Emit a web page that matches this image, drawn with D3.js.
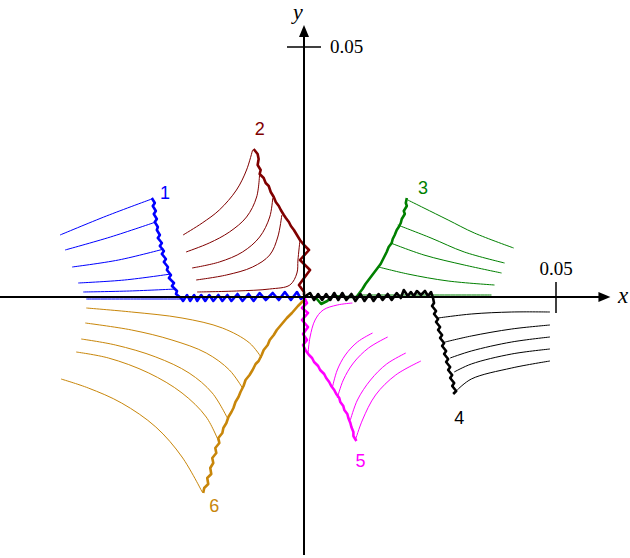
<!DOCTYPE html>
<html>
<head>
<meta charset="utf-8">
<script src="https://cdn.jsdelivr.net/npm/d3@7"></script>
<style>
  body { margin: 0; background: #fff; }
  svg { display: block; }
  .num { font-family: "Liberation Serif", "DejaVu Serif", serif; font-size: 19px; }
  .lab { font-family: "Liberation Sans", Arial, sans-serif; font-size: 18px; }
</style>
</head>
<body>
<svg class="fig"></svg>
<script>
// all coordinates in units of 1e-3
var W = 630, H = 558;

var colors = ["#0000ff", "#800000", "#008000", "#000000", "#ff00ff", "#c8860a"];
var groupNames = ["1", "2", "3", "4", "5", "6"];
var labelPos = [[-27.6, 20.8], [-8.8, 33.6], [23.6, 21.8], [30.8, -24.2], [11.2, -32.8], [-17.8, -41.8]];

var xTicks = [50], yTicks = [50];

// thick zig-zag paths
var zig1 = [[-30.2,19.8],[-29.6,18.8],[-30.0,18.2],[-29.4,17.2],[-29.8,16.6],[-29.2,15.6],[-29.6,15.0],[-29.0,14.0],
  [-29.2,13.4],[-28.6,12.4],[-29.0,11.8],[-28.2,10.8],[-28.6,10.2],[-27.8,9.2],[-28.2,8.6],[-27.4,7.6],[-27.8,7.0],
  [-27.0,6.0],[-27.2,5.4],[-26.4,4.4],[-26.8,3.8],[-25.8,2.8],[-26.2,2.2],[-25.2,1.2],[-25.4,0.6],[-24.4,-0.2],
  [-24.0,-0.8],[-23.2,0.4],[-22.6,-0.8],[-21.8,0.4],[-21.2,-0.8],[-20.4,0.4],[-19.6,-0.8],[-18.8,0.4],[-18.0,-0.8],
  [-17.0,0.4],[-16.2,-0.8],[-15.2,0.4],[-14.4,-0.8],[-13.2,0.6],[-12.2,-0.8],[-11.0,0.6],[-10.0,-0.8],[-8.8,0.8],
  [-7.6,-0.6],[-6.2,0.8],[-5.0,-0.6],[-3.8,1.0],[-2.6,-0.6],[-1.4,1.0],[-0.6,-0.4],[0,0]];
var zig2 = [[-10.0,29.6],[-9.2,28.6],[-9.0,27.6],[-9.2,26.4],[-8.6,25.4],[-8.8,24.6],[-8.0,23.8],[-7.6,22.8],[-7.0,22.2],
  [-6.6,21.0],[-6.0,20.0],[-5.6,19.0],[-5.0,18.2],[-4.6,17.4],[-4.0,16.4],[-3.6,15.8],[-3.0,15.0],[-2.6,14.2],
  [-2.0,13.4],[-1.4,12.4],[-0.8,11.4],[0,10.4],[1.0,9.4],[-0.8,7.4],[1.2,5.4],[-1.0,2.4],[0,1.0],[0,0.4]];
var zig3 = [[20.4,19.8],[20.2,18.8],[20.4,18.2],[19.8,17.2],[20.0,16.6],[19.4,15.6],[19.2,14.8],[18.8,14.0],[18.4,13.4],
  [18.0,12.4],[17.6,11.6],[17.4,10.8],[16.8,10.0],[16.4,9.0],[16.0,8.2],[15.6,7.4],[15.2,6.6],[14.6,5.8],[14.0,5.0],
  [13.4,4.2],[12.8,3.4],[12.2,2.6],[11.6,1.6],[11.0,0.8],[10.4,0.0],[8.2,0.0],[5.8,0.2],[4.6,-0.8],[3.4,-1.4],[2.4,-0.2]];
var zig4 = [[0,0],[1.2,0.8],[2.0,-0.6],[2.8,0.6],[3.6,-0.6],[4.4,0.6],[5.2,-0.6],[6.0,0.8],[6.8,-0.6],[7.6,0.8],[8.4,-0.6],
  [9.4,0.6],[10.2,-0.8],[11.2,0.6],[12.0,-0.8],[13.0,0.6],[13.8,-0.8],[14.8,0.6],[15.6,-0.6],[16.6,0.6],[17.4,-0.6],
  [18.4,0.8],[19.2,-0.2],[19.8,1.4],[20.6,0.2],[21.2,1.0],[21.8,0.2],[22.4,1.2],[23.2,0.4],[24.0,1.2],[24.6,0.2],[25.2,1.0],
  [25.6,-0.2],[25.8,-1.2],[25.4,-1.8],[26.2,-2.8],[25.8,-3.4],[26.6,-4.4],[26.2,-5.0],[27.0,-6.0],[26.6,-6.6],[27.4,-7.6],
  [27.0,-8.2],[27.8,-9.2],[27.4,-9.8],[28.2,-10.8],[27.8,-11.4],[28.6,-12.4],[28.2,-13.0],[29.0,-14.0],[28.6,-14.6],
  [29.4,-15.6],[29.0,-16.2],[29.8,-17.2],[29.4,-17.8],[30.2,-18.8],[29.6,-19.4]];
var zig5 = [[0,0],[0.6,-1.2],[-0.4,-2.2],[0.8,-3.2],[-0.4,-4.6],[0.8,-6.0],[-0.2,-7.4],[0.6,-8.6],[-0.2,-9.6],[0.4,-10.8],
  [1.0,-11.6],[1.6,-12.2],[2.0,-13.0],[2.8,-13.8],[3.2,-14.6],[4.0,-15.4],[4.4,-16.2],[5.0,-17.0],[5.4,-17.8],[6.0,-18.6],
  [6.4,-19.4],[7.0,-20.2],[7.2,-21.0],[7.8,-21.8],[8.0,-22.6],[8.6,-23.4],[8.8,-24.2],[9.2,-25.2],[9.4,-26.0],[9.8,-27.0],
  [9.8,-27.8],[10.4,-28.8]];
var zig6 = [[0,-0.6],[-1.2,-1.8],[-2.4,-3.2],[-3.4,-4.2],[-4.4,-5.4],[-5.4,-6.6],[-6.0,-7.6],[-6.8,-8.6],[-7.2,-9.6],
  [-8.0,-10.6],[-8.4,-11.6],[-9.0,-12.8],[-9.6,-13.4],[-10.2,-14.6],[-10.8,-15.6],[-11.6,-16.6],[-12.0,-17.8],[-12.6,-19.0],
  [-13.0,-20.0],[-13.6,-21.0],[-14.0,-22.2],[-14.4,-23.0],[-15.0,-24.0],[-15.4,-25.2],[-16.0,-26.2],[-16.2,-27.2],
  [-17.0,-28.2],[-16.8,-29.2],[-17.6,-30.2],[-17.4,-31.2],[-18.2,-32.2],[-18.0,-33.2],[-18.6,-34.2],[-18.4,-35.4],
  [-19.2,-36.2],[-19.0,-37.4],[-19.8,-38.2],[-20.0,-39.2]];

// thin trajectories leaving the zig-zags
var thin1 = [
  [[-30.2,19.6],[-39.2,16.2],[-48.4,12.4]],
  [[-29.4,15.0],[-38.4,12.0],[-47.4,9.4]],
  [[-27.8,9.6],[-36.8,7.4],[-46.0,6.0]],
  [[-26.4,4.6],[-35.6,3.4],[-44.8,2.8]],
  [[-25.4,1.6],[-34.6,1.2],[-43.8,1.0]],
  [[-24.2,-0.4],[-33.8,-0.4],[-43.2,-0.4]]];
var thin2 = [
  [[-10.2,29.4],[-11.4,25.4],[-13.4,21.4],[-16.8,17.4],[-20.2,14.8],[-24.0,12.4]],
  [[-8.8,24.8],[-9.4,20.0],[-11.4,16.0],[-14.8,13.0],[-18.8,10.8],[-23.4,9.0]],
  [[-6.2,19.8],[-6.8,16.0],[-8.8,12.0],[-12.2,9.0],[-16.8,7.0],[-22.2,5.8]],
  [[-4.4,16.4],[-5.2,12.0],[-6.8,8.4],[-10.2,6.0],[-15.4,4.4],[-21.4,3.4]],
  [[-0.8,11.4],[-1.2,7.4],[-1.4,4.8],[-2.8,2.4],[-6.8,1.6],[-13.4,1.2],[-21.2,1.0]]];
var thin3 = [
  [[20.6,19.4],[23.8,17.8],[28.6,15.4],[33.8,12.8],[41.6,9.8]],
  [[18.6,14.4],[25.2,11.8],[31.8,9.0],[39.8,6.8]],
  [[17.2,10.8],[23.8,8.4],[31.8,6.4],[39.2,4.8]],
  [[14.8,6.0],[20.6,4.6],[28.6,3.2],[37.8,2.4]],
  [[10.8,0.4],[24.0,0.4],[37.2,0.4]]];
var thin4 = [
  [[26.6,-4.2],[33.2,-3.4],[41.2,-3.0],[48.8,-3.0]],
  [[28.0,-9.0],[33.2,-7.8],[41.2,-6.4],[48.8,-5.6]],
  [[29.0,-12.2],[33.2,-10.8],[41.2,-9.0],[48.8,-8.0]],
  [[29.8,-15.0],[33.2,-13.4],[41.2,-11.4],[48.8,-10.4]],
  [[30.4,-18.6],[33.2,-16.4],[41.2,-14.2],[48.8,-12.8]]];
var thin5 = [
  [[0.8,-11.2],[1.2,-8.0],[2.2,-4.6],[3.8,-2.6],[6.6,-1.6],[9.6,-1.2]],
  [[5.6,-18.2],[6.6,-14.6],[8.2,-11.6],[10.6,-9.0],[13.6,-7.2]],
  [[6.6,-20.2],[7.8,-16.6],[9.8,-13.2],[12.8,-10.2],[16.6,-8.0]],
  [[9.2,-24.6],[10.6,-20.6],[13.2,-16.6],[16.4,-13.4],[20.2,-11.2]],
  [[10.2,-28.6],[11.6,-24.6],[14.2,-19.6],[18.2,-15.6],[23.2,-12.8]]];
var thin6 = [
  [[-8.4,-12.2],[-10.8,-9.2],[-16.2,-6.2],[-24.2,-4.2],[-34.2,-3.0],[-43.2,-2.2]],
  [[-12.2,-18.2],[-14.8,-14.6],[-19.4,-11.2],[-26.2,-8.6],[-34.2,-6.6],[-43.4,-5.2]],
  [[-15.2,-24.2],[-18.2,-19.2],[-22.8,-15.2],[-29.4,-12.0],[-37.4,-9.6],[-44.2,-8.4]],
  [[-16.8,-29.2],[-19.4,-24.0],[-24.2,-19.2],[-30.8,-15.2],[-38.8,-12.2],[-45.2,-11.0]],
  [[-20.2,-39.0],[-24.2,-32.0],[-29.4,-26.0],[-36.2,-21.2],[-42.8,-18.2],[-48.2,-16.4]]];

var zigs = [zig1, zig2, zig3, zig4, zig5, zig6];
var thins = [thin1, thin2, thin3, thin4, thin5, thin6];

var x = d3.scaleLinear().domain([0, 50]).range([304, 556]);
var y = d3.scaleLinear().domain([0, 50]).range([297, 47]);

var svg = d3.select('.fig').attr('width', W).attr('height', H);

var smooth = d3.line().x(function(d) { return x(d[0]); }).y(function(d) { return y(d[1]); })
  .curve(d3.curveCatmullRom.alpha(0.5));
var jagged = d3.line().x(function(d) { return x(d[0]); }).y(function(d) { return y(d[1]); });

// thin curves
thins.forEach(function(set, i) {
  svg.append('g').selectAll('path').data(set).enter().append('path')
    .attr('d', smooth).attr('fill', 'none').attr('stroke', colors[i]).attr('stroke-width', 1);
});

// zig-zags
svg.append('g').selectAll('path').data(zigs).enter().append('path')
  .attr('d', jagged).attr('fill', 'none')
  .attr('stroke', function(d, i) { return colors[i]; })
  .attr('stroke-width', 2.6).attr('stroke-linejoin', 'round');

// axes
var ax = svg.append('g');
ax.append('line').attr('x1', 0).attr('x2', x(59.5))
  .attr('y1', y(0)).attr('y2', y(0)).attr('stroke', '#000').attr('stroke-width', 2);
ax.append('line').attr('x1', x(0)).attr('x2', x(0))
  .attr('y1', y(-51.6)).attr('y2', y(52.5)).attr('stroke', '#000').attr('stroke-width', 2);
ax.append('path').attr('d', 'M' + x(60.8) + ',' + y(0) + 'l-12,-5l0,10z').attr('fill', '#000');
ax.append('path').attr('d', 'M' + x(0) + ',' + y(54.4) + 'l-5,12l10,0z').attr('fill', '#000');

ax.selectAll('.xt').data(xTicks).enter().append('line').attr('class', 'xt')
  .attr('x1', function(d) { return x(d); }).attr('x2', function(d) { return x(d); })
  .attr('y1', y(0) - 15).attr('y2', y(0) + 16).attr('stroke', '#000').attr('stroke-width', 1.5);
ax.selectAll('.xl').data(xTicks).enter().append('text').attr('class', 'num')
  .attr('x', function(d) { return x(d); }).attr('y', y(0) - 22).attr('text-anchor', 'middle')
  .text(function(d) { return d3.format('.2f')(d / 1000); });
ax.selectAll('.yt').data(yTicks).enter().append('line').attr('class', 'yt')
  .attr('y1', function(d) { return y(d); }).attr('y2', function(d) { return y(d); })
  .attr('x1', x(0) - 17).attr('x2', x(0) + 17).attr('stroke', '#000').attr('stroke-width', 1.5);
ax.selectAll('.yl').data(yTicks).enter().append('text').attr('class', 'num')
  .attr('x', x(0) + 26).attr('y', function(d) { return y(d) + 6; })
  .text(function(d) { return d3.format('.2f')(d / 1000); });

ax.append('text').attr('class', 'num').attr('x', 623).attr('y', y(0) + 6)
  .attr('text-anchor', 'middle').style('font-style', 'italic').style('font-size', '23px').text('x');
ax.append('text').attr('class', 'num').attr('x', x(0) - 6).attr('y', 19)
  .attr('text-anchor', 'middle').style('font-style', 'italic').style('font-size', '22px').text('y');

// group numbers
svg.append('g').selectAll('text').data(groupNames).enter().append('text').attr('class', 'lab')
  .attr('x', function(d, i) { return x(labelPos[i][0]); })
  .attr('y', function(d, i) { return y(labelPos[i][1]); })
  .attr('text-anchor', 'middle').attr('dominant-baseline', 'central')
  .attr('fill', function(d, i) { return colors[i]; })
  .text(function(d) { return d; });
</script>
</body>
</html>
